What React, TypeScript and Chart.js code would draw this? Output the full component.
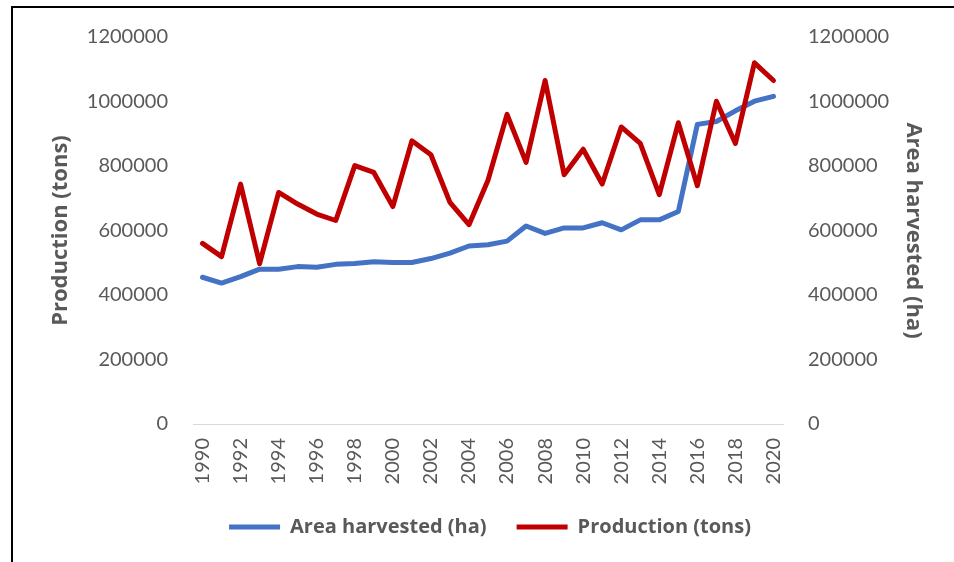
import React, { useEffect, useRef } from 'react';
import { Chart, registerables } from 'chart.js';

Chart.register(...registerables);

const years = [
  '1990', '1991', '1992', '1993', '1994', '1995', '1996', '1997', '1998', '1999',
  '2000', '2001', '2002', '2003', '2004', '2005', '2006', '2007', '2008', '2009',
  '2010', '2011', '2012', '2013', '2014', '2015', '2016', '2017', '2018', '2019', '2020',
];

const areaHarvested = [
  455000, 437000, 457000, 480000, 480000, 488000, 486000, 495000, 498000, 503000,
  501000, 501000, 513000, 530000, 552000, 556000, 567000, 614000, 591000, 608000,
  608000, 624000, 602000, 633000, 633000, 659000, 929000, 938000, 971000, 1001000, 1016000,
];

const production = [
  560000, 519000, 744000, 497000, 718000, 682000, 651000, 631000, 801000, 780000,
  674000, 878000, 835000, 687000, 618000, 756000, 960000, 811000, 1065000, 773000,
  852000, 744000, 921000, 870000, 711000, 934000, 739000, 1001000, 870000, 1120000, 1065000,
];

const yMin = 0;
const yMax = 1200000;
const yStep = 200000;

const TEXT = '#595959';
const FONT = 'Lato, "Open Sans", sans-serif';
const BOLD_FONT = '"Open Sans", Lato, sans-serif';
const BLUE = '#4472C4';
const RED = '#C00000';

const LEGEND_DX = 13;
const LEGEND_DY = 0;

export default function App() {
  const ref = useRef<HTMLCanvasElement | null>(null);

  useEffect(() => {
    if (!ref.current) return;
    const legendShift = {
      id: 'legendShift',
      afterLayout(chart: any) {
        const l = chart.legend;
        if (!l) return;
        l.left += LEGEND_DX;
        l.right += LEGEND_DX;
        l.top += LEGEND_DY;
        l.bottom += LEGEND_DY;
      },
    };
    const yTickCb = (v: any) => String(v);
    const chart = new Chart(ref.current, {
      type: 'line',
      data: {
        labels: years,
        datasets: [
          {
            label: 'Area harvested (ha)',
            data: areaHarvested,
            yAxisID: 'y1',
            borderColor: BLUE,
            backgroundColor: BLUE,
            borderWidth: 5,
            pointRadius: 0,
            tension: 0,
            borderJoinStyle: 'round',
            borderCapStyle: 'round',
            order: 1,
          },
          {
            label: 'Production (tons)',
            data: production,
            yAxisID: 'y',
            borderColor: RED,
            backgroundColor: RED,
            borderWidth: 5,
            pointRadius: 0,
            tension: 0,
            borderJoinStyle: 'round',
            borderCapStyle: 'round',
            order: 0,
          },
        ],
      },
      options: {
        responsive: false,
        animation: false,
        devicePixelRatio: 1,
        layout: { padding: { top: 36, left: 0, right: 0, bottom: 15 } },
        plugins: {
          tooltip: { enabled: false },
          legend: {
            position: 'bottom',
            labels: {
              usePointStyle: true,
              pointStyle: 'line',
              pointStyleWidth: 51,
              boxWidth: 51,
              padding: 30,
              color: TEXT,
              font: { family: BOLD_FONT, size: 20, weight: 'bold' },
              sort: (a: any, b: any) => a.datasetIndex - b.datasetIndex,
            },
          },
        },
        scales: {
          x: {
            type: 'category',
            offset: true,
            grid: { display: false, drawTicks: false },
            border: { display: true, color: '#D9D9D9', width: 1 },
            ticks: {
              autoSkip: false,
              minRotation: 90,
              maxRotation: 90,
              padding: 14,
              color: TEXT,
              font: { family: FONT, size: 20 },
              callback: (_v: any, i: number) => (i % 2 === 0 ? years[i] : ''),
            },
            afterFit: (s: any) => {
              s.height = 63;
            },
          },
          y: {
            position: 'left',
            min: yMin,
            max: yMax,
            grid: { display: false, drawTicks: false },
            border: { display: false },
            ticks: {
              stepSize: yStep,
              padding: 25,
              color: TEXT,
              font: { family: FONT, size: 20 },
              callback: yTickCb,
            },
            title: {
              display: true,
              text: 'Production (tons)',
              color: TEXT,
              font: { family: BOLD_FONT, size: 22, weight: 'bold' },
              padding: { top: 48, bottom: 0 },
            },
            afterFit: (s: any) => {
              s.width = 193;
            },
          },
          y1: {
            position: 'right',
            min: yMin,
            max: yMax,
            grid: { display: false, drawTicks: false },
            border: { display: false },
            ticks: {
              stepSize: yStep,
              padding: 25,
              color: TEXT,
              font: { family: FONT, size: 20 },
              callback: yTickCb,
            },
            title: {
              display: true,
              text: 'Area harvested (ha)',
              color: TEXT,
              font: { family: BOLD_FONT, size: 22, weight: 'bold' },
              padding: { top: 28, bottom: 0 },
            },
            afterFit: (s: any) => {
              s.width = 171;
            },
          },
        },
      },
      plugins: [legendShift],
    } as any);
    return () => chart.destroy();
  }, []);

  return (
    <div style={{ position: 'absolute', left: 0, top: 0, width: 954, height: 562, background: '#fff' }}>
      <canvas ref={ref} width={954} height={562} style={{ position: 'absolute', left: 0, top: 0 }} />
      <div
        style={{
          position: 'absolute',
          left: 11,
          top: 6,
          right: 0,
          bottom: 0,
          borderLeft: '2px solid #000',
          borderTop: '2px solid #000',
          pointerEvents: 'none',
        }}
      />
    </div>
  );
}
